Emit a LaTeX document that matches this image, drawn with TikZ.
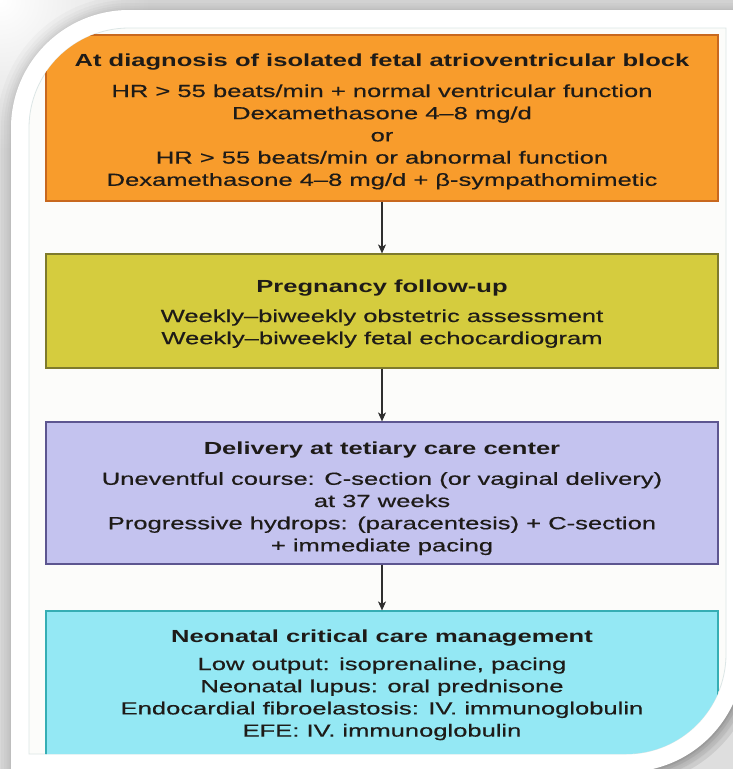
\documentclass[tikz,border=0pt]{standalone}
\usepackage{fontspec}
\setmainfont{Liberation Sans}[FakeStretch=1.46, UprightFeatures={FakeBold=0.5}]
\usetikzlibrary{arrows.meta}
\definecolor{bggray}{HTML}{DEDEDE}
\definecolor{pagecol}{HTML}{FCFCFA}
\definecolor{pageline}{HTML}{DCE6E6}
\definecolor{orangeF}{HTML}{F89C2C}
\definecolor{orangeD}{HTML}{C8681E}
\definecolor{yellowF}{HTML}{D5CC3E}
\definecolor{yellowD}{HTML}{7E7A2C}
\definecolor{purpleF}{HTML}{C4C3EF}
\definecolor{purpleD}{HTML}{5D5690}
\definecolor{cyanF}{HTML}{94E8F4}
\definecolor{cyanD}{HTML}{36AEB4}
\definecolor{ink}{HTML}{1E1B18}
\definecolor{arrowcol}{HTML}{2E2E2E}
\def\outerpath{(11,772) -- (11,128) arc[start angle=180,end angle=270,radius=118] -- (744,10) -- (744,654) arc[start angle=0,end angle=90,radius=118] -- cycle}
\def\innerpath{(29,754) -- (29,128) arc[start angle=180,end angle=270,radius=100] -- (726,28) -- (726,654) arc[start angle=0,end angle=90,radius=100] -- cycle}
\begin{document}
\begin{tikzpicture}[x=1pt,y=-1pt,
  box/.style={rectangle, minimum width=672pt, inner sep=0pt, line width=1.2pt,
    align=center, text=ink, font=\fontsize{17.5pt}{22.2pt}\selectfont},
  arr/.style={draw=arrowcol, line width=1.1pt, -{Stealth[length=9pt,width=8pt,inset=2.5pt]}}]
\useasboundingbox (0,0) rectangle (733,769);
\fill[bggray] (0,0) rectangle (733,769);
\shade[inner color=white, outer color=bggray] (0,0) circle[radius=150];
\foreach \w in {2,5,9,14,20,28}{\draw[line width=\w pt, black, opacity=0.025, line join=round] \outerpath;}
\foreach \w in {4,10,18,28}{\draw[line width=\w pt, black, opacity=0.05] (744,654) arc[start angle=0,end angle=90,radius=118];}
\fill[white] \outerpath;
\fill[pagecol] \innerpath;
\draw[pageline, line width=0.8pt] \innerpath;
\begin{scope}
\clip \innerpath;
\node[box, fill=orangeF, draw=orangeD, minimum height=166pt] (b1) at (382,118)
 {\rule{0pt}{20.8pt}\textbf{At diagnosis of isolated fetal atrioventricular block}\\[8.8pt]
  HR > 55 beats/min + normal ventricular function\\
  Dexamethasone 4–8 mg/d\\
  or\\
  HR > 55 beats/min or abnormal function\\
  Dexamethasone 4–8 mg/d + β-sympathomimetic\rule[-5pt]{0pt}{5pt}};
\node[box, fill=yellowF, draw=yellowD, minimum height=114pt] (b2) at (382,311)
 {\rule{0pt}{19.2pt}\textbf{Pregnancy follow-up}\\[7.8pt]
  Weekly–biweekly obstetric assessment\\
  Weekly–biweekly fetal echocardiogram\rule[-5pt]{0pt}{5pt}};
\node[box, fill=purpleF, draw=purpleD, minimum height=142pt] (b3) at (382,493)
 {\rule{0pt}{24.4pt}\textbf{Delivery at tetiary care center}\\[8.6pt]
  Uneventful course: C-section (or vaginal delivery)\\
  at 37 weeks\\
  Progressive hydrops: (paracentesis) + C-section\\
  + immediate pacing\rule[-5pt]{0pt}{5pt}};
\node[box, fill=cyanF, draw=cyanD, minimum height=150pt] (b4) at (382,686)
 {\rule{0pt}{16.6pt}\textbf{Neonatal critical care management}\\[5.8pt]
  Low output: isoprenaline, pacing\\
  Neonatal lupus: oral prednisone\\
  Endocardial fibroelastosis: IV. immunoglobulin\\
  EFE: IV. immunoglobulin\rule[-10pt]{0pt}{10pt}};
\draw[arr] (b1) -- (b2);
\draw[arr] (b2) -- (b3);
\draw[arr] (b3) -- (b4);
\end{scope}
\end{tikzpicture}
\end{document}
